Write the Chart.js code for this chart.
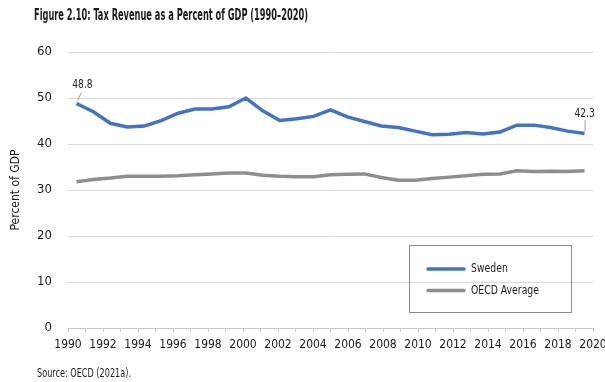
<!DOCTYPE html>
<html>
<head>
<meta charset="utf-8">
<script src="https://cdn.jsdelivr.net/npm/chart.js@4.4.1/dist/chart.umd.min.js"></script>
<style>
  html, body { margin: 0; padding: 0; background: #ffffff; }
  #wrap { position: relative; width: 605px; height: 382px; }
</style>
</head>
<body>
<div id="wrap"><canvas id="c" width="605" height="382"></canvas></div>
<script>
const years = [1990,1991,1992,1993,1994,1995,1996,1997,1998,1999,2000,2001,2002,2003,2004,2005,2006,2007,2008,2009,2010,2011,2012,2013,2014,2015,2016,2017,2018,2019,2020];
const sweden = [48.8,47.0,44.5,43.7,43.9,45.1,46.7,47.6,47.6,48.1,50.0,47.2,45.1,45.5,46.0,47.4,45.9,44.9,43.9,43.6,42.8,42.0,42.1,42.5,42.2,42.6,44.1,44.1,43.6,42.8,42.3];
const oecd = [31.8,32.3,32.6,33.0,33.0,33.0,33.1,33.3,33.5,33.7,33.7,33.2,33.0,32.9,32.9,33.3,33.4,33.5,32.7,32.1,32.1,32.5,32.8,33.1,33.4,33.5,34.2,34.0,34.1,34.0,34.2];
const seriesNames = ["Sweden", "OECD Average"];
const yTicks = [0,10,20,30,40,50,60];
const titleText = "Figure 2.10: Tax Revenue as a Percent of GDP (1990\u20132020)";
const sourceText = "Source: OECD (2021a).";
const yTitle = "Percent of GDP";

const FONT = '"Liberation Sans Narrow", "DejaVu Sans Condensed", "Roboto Condensed", Roboto, sans-serif';
const BLUE = '#4472C4';
const GRAY = '#8E8E8E';

// draw text horizontally condensed by factor sx (mimics the narrow typeface of the original)
function narrowText(ctx, text, x, y, sx, align) {
  ctx.save();
  ctx.translate(x, y);
  ctx.scale(sx, 1);
  ctx.textAlign = align || 'left';
  ctx.fillText(text, 0, 0);
  ctx.restore();
}
function fitText(ctx, text, x, y, width, align) {
  const w = ctx.measureText(text).width;
  narrowText(ctx, text, x, y, width / w, align);
}

const overlay = {
  id: 'overlay',
  afterDraw(chart) {
    const ctx = chart.ctx;
    ctx.save();
    // title
    ctx.fillStyle = '#1a1a1a';
    ctx.font = 'bold 15.5px ' + FONT;
    ctx.textBaseline = 'alphabetic';
    fitText(ctx, titleText, 34, 20, 274, 'left');
    // source
    ctx.font = '12px ' + FONT;
    ctx.fillStyle = '#222';
    fitText(ctx, sourceText, 37, 377, 94, 'left');

    // data labels for first and last Sweden points
    const meta = chart.getDatasetMeta(0);
    const p0 = meta.data[0];
    const pN = meta.data[meta.data.length - 1];
    ctx.strokeStyle = '#a0a0a0';
    ctx.lineWidth = 1;
    ctx.beginPath();
    ctx.moveTo(p0.x + 1, p0.y - 3);
    ctx.lineTo(p0.x + 5, p0.y - 11);
    ctx.stroke();
    ctx.beginPath();
    ctx.moveTo(pN.x + 0.5, pN.y - 2);
    ctx.lineTo(pN.x + 0.5, pN.y - 13);
    ctx.stroke();
    ctx.fillStyle = '#222';
    ctx.font = '13px ' + FONT;
    ctx.textBaseline = 'middle';
    narrowText(ctx, sweden[0].toFixed(1), p0.x + 6, p0.y - 19, 0.78, 'center');
    narrowText(ctx, sweden[sweden.length - 1].toFixed(1), pN.x, pN.y - 20, 0.78, 'center');

    // legend box
    const lx = 409.5, ly = 245.5, lw = 162, lh = 67;
    ctx.strokeStyle = '#8a8a8a';
    ctx.lineWidth = 1;
    ctx.strokeRect(lx, ly, lw, lh);
    const colors = [BLUE, GRAY];
    ctx.textBaseline = 'middle';
    ctx.font = '13px ' + FONT;
    const sx = 68 / ctx.measureText(seriesNames[1]).width;
    for (let i = 0; i < seriesNames.length; i++) {
      const yy = 269 + i * 21.5;
      ctx.strokeStyle = colors[i];
      ctx.lineWidth = 3.5;
      ctx.lineCap = 'round';
      ctx.beginPath();
      ctx.moveTo(428, yy);
      ctx.lineTo(464, yy);
      ctx.stroke();
      ctx.fillStyle = '#1a1a1a';
      narrowText(ctx, seriesNames[i], 471, yy, sx, 'left');
    }
    ctx.restore();
  }
};

new Chart(document.getElementById('c'), {
  type: 'line',
  data: {
    labels: years.map(String),
    datasets: [
      { label: seriesNames[0], data: sweden, borderColor: BLUE, borderWidth: 3.5, pointRadius: 0, tension: 0, xAxisID: 'x', yAxisID: 'y' },
      { label: seriesNames[1], data: oecd, borderColor: GRAY, borderWidth: 3.5, pointRadius: 0, tension: 0, xAxisID: 'x', yAxisID: 'y' }
    ]
  },
  options: {
    responsive: false,
    animation: false,
    devicePixelRatio: 1,
    layout: { padding: { left: 0, right: 12, top: 52, bottom: 24 } },
    plugins: { legend: { display: false }, title: { display: false }, tooltip: { enabled: false } },
    scales: {
      x: {
        type: 'category',
        offset: true,
        display: false
      },
      xt: {
        type: 'linear',
        position: 'bottom',
        min: years[0],
        max: years[years.length - 1],
        afterBuildTicks(scale) {
          scale.ticks = years.map(v => ({ value: v }));
        },
        afterFit(scale) { scale.height = 30; scale.paddingLeft = 0; scale.paddingRight = 0; },
        ticks: {
          autoSkip: false,
          maxRotation: 0,
          padding: 6,
          color: '#1a1a1a',
          font: { family: FONT, size: 12 },
          callback: (v) => (v % 2 === 0 ? String(v) : '')
        },
        grid: { drawOnChartArea: false, drawTicks: true, tickLength: 4, color: '#c8c8c8' },
        border: { display: true, color: '#c8c8c8', width: 1 }
      },
      y: {
        min: 0,
        max: 60,
        afterBuildTicks(scale) { scale.ticks = yTicks.map(v => ({ value: v })); },
        afterFit(scale) { scale.width = 68; },
        ticks: {
          padding: 16,
          color: '#1a1a1a',
          font: { family: FONT, size: 13 }
        },
        grid: { color: '#dadada', drawTicks: false, lineWidth: 1 },
        border: { display: false },
        title: {
          display: true,
          text: yTitle,
          color: '#1a1a1a',
          font: { family: FONT, size: 12 },
          padding: { top: 9, bottom: 0 }
        }
      }
    }
  },
  plugins: [overlay]
});
</script>
</body>
</html>
